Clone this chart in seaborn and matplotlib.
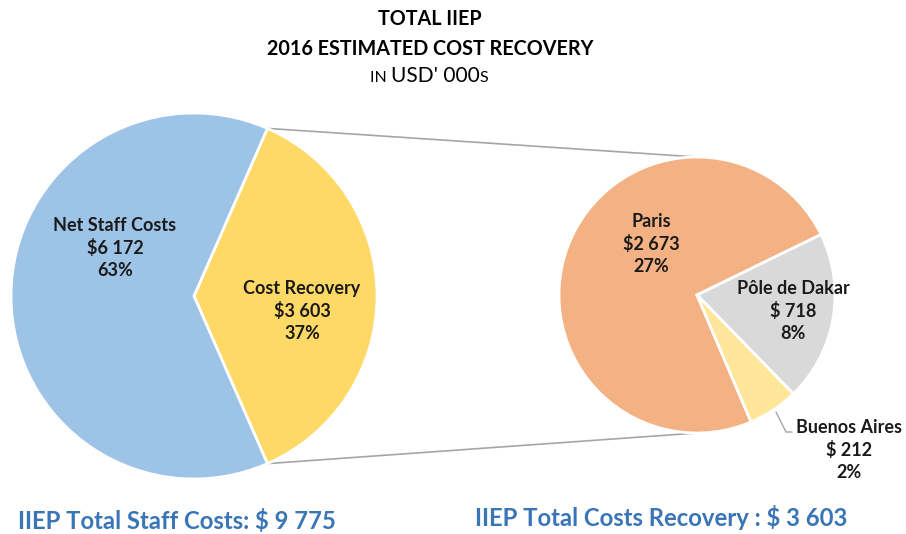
import numpy as np
import matplotlib
matplotlib.use("Agg")
import matplotlib.pyplot as plt
import seaborn as sns
from matplotlib.offsetbox import TextArea, HPacker, AnnotationBbox

# data
main_labels = ["Cost Recovery", "Net Staff Costs"]
main_values = [3603, 6172]
main_pcts = ["37%", "63%"]
main_colors = ["#FFD966", "#9DC3E6"]

sub_labels = ["Paris", "Pôle de Dakar", "Buenos Aires"]
sub_values = [2673, 718, 212]
sub_pcts = ["27%", "8%", "2%"]
sub_money = ["$2 673", "$ 718", "$ 212"]
sub_colors = ["#F4B183", "#D9D9D9", "#FFE699"]

total_staff = "$ 9 775"
total_recovery = "$ 3 603"

sns.set_theme(style="white")
plt.rcParams["font.family"] = ["Lato", "DejaVu Sans"]

W, H = 906, 534
fig = plt.figure(figsize=(W / 100, H / 100), dpi=100)
ax = fig.add_axes([0, 0, 1, 1])

# main pie, cost recovery wedge centred on the right side
c1, r1 = (194, H - 296), 183
frac = main_values[0] / sum(main_values)
start1 = -frac * 180
ax.pie(main_values, colors=main_colors, startangle=start1, center=c1, radius=r1,
       wedgeprops=dict(edgecolor="white", linewidth=2), frame=True)

# sub pie, Paris first going clockwise, ending at ~26 deg
c2, r2 = (697, H - 295), 138
pfrac = sub_values[0] / sum(sub_values)
start2 = 26 + pfrac * 360
ax.pie(sub_values, colors=sub_colors, startangle=start2, counterclock=False,
       center=c2, radius=r2, wedgeprops=dict(edgecolor="white", linewidth=2), frame=True)
ax.set_xlim(0, W)
ax.set_ylim(0, H)
ax.set_aspect("equal")
ax.axis("off")

# connector lines
a = np.deg2rad(frac * 180)
top1 = (c1[0] + r1 * np.cos(a), c1[1] + r1 * np.sin(a))
bot1 = (c1[0] + r1 * np.cos(a), c1[1] - r1 * np.sin(a))
ax.plot([top1[0], c2[0]], [top1[1], c2[1] + r2], color="#A6A6A6", lw=1.2, zorder=0)
ax.plot([bot1[0], c2[0]], [bot1[1], c2[1] - r2], color="#A6A6A6", lw=1.2, zorder=0)

lab = dict(ha="center", va="center", fontsize=13, fontweight="bold", color="#1a1a1a", linespacing=1.33)
ax.text(115, H - 248, f"{main_labels[1]}\n${main_values[1]:,}".replace(",", " ") + f"\n{main_pcts[1]}", **lab)
ax.text(302, H - 311, f"{main_labels[0]}\n${main_values[0]:,}".replace(",", " ") + f"\n{main_pcts[0]}", **lab)
ax.text(651, H - 244, f"{sub_labels[0]}\n{sub_money[0]}\n{sub_pcts[0]}", **lab)
ax.text(793, H - 311, f"{sub_labels[1]}\n{sub_money[1]}\n{sub_pcts[1]}", **lab)
ax.text(849, H - 450, f"{sub_labels[2]}\n{sub_money[2]}\n{sub_pcts[2]}", **lab)
# leader line for Buenos Aires
ax.plot([776, 786, 792], [H - 412, H - 432, H - 432], color="#A6A6A6", lw=1)

# titles
ax.text(430, H - 19, "TOTAL IIEP", ha="center", va="center", fontsize=14.2, fontweight="bold", color="black")
ax.text(430, H - 49, "2016 ESTIMATED COST RECOVERY", ha="center", va="center", fontsize=14.2,
        fontweight="bold", color="black")
parts = [TextArea("IN ", textprops=dict(size=11.5, color="black")),
         TextArea("USD' 000", textprops=dict(size=15, color="black")),
         TextArea("S", textprops=dict(size=11.5, color="black"))]
box = HPacker(children=parts, align="baseline", pad=0, sep=0)
ax.add_artist(AnnotationBbox(box, (429, H - 76), xycoords="data", frameon=False, box_alignment=(0.5, 0.5)))

blue = "#3A75B5"
ax.text(18, H - 521, f"IIEP Total Staff Costs: {total_staff}", ha="left", va="center",
        fontsize=17.2, fontweight="bold", color=blue)
ax.text(475, H - 518, f"IIEP Total Costs Recovery : {total_recovery}", ha="left", va="center",
        fontsize=17.2, fontweight="bold", color=blue)

fig.savefig("out.png", dpi=100)
